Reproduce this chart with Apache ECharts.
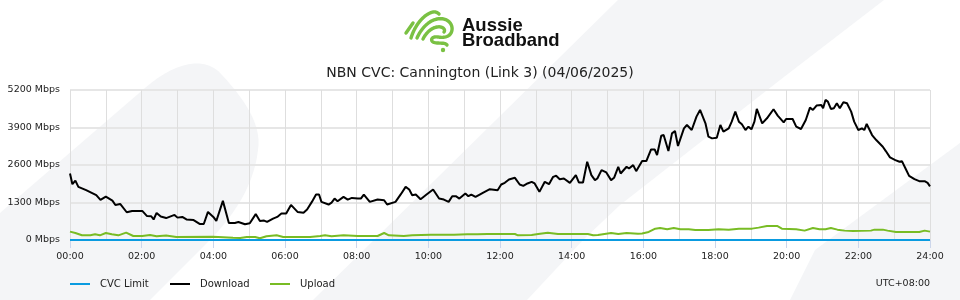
<!DOCTYPE html>
<html>
<head>
<meta charset="utf-8">
<script src="https://cdn.jsdelivr.net/npm/echarts@6/dist/echarts.min.js"></script>
<style>
html,body{margin:0;padding:0;background:#fff;}
#chart{width:960px;height:300px;}
</style>
</head>
<body>
<div id="chart"></div>
<script>
// ---- Data (minutes since 00:00, Mbps) ----
const chartTitle = 'NBN CVC: Cannington (Link 3) (04/06/2025)';
const seriesNames = ['CVC Limit', 'Download', 'Upload'];
const yTicks = [0, 1300, 2600, 3900, 5200];
const xTickHours = ['00:00','02:00','04:00','06:00','08:00','10:00','12:00','14:00','16:00','18:00','20:00','22:00','24:00'];

const cvcLimit = [[0,0],[1440,0]];

const download = [
[0,2306],[4,1935],[9,2060],[14,1843],[27,1727],[44,1553],[51,1390],[60,1505],[71,1365],[76,1215],[84,1250],[95,962],[104,1008],[121,1008],[129,829],[136,823],[140,712],[145,939],[152,812],[161,760],[175,870],[180,776],[188,800],[195,712],[207,690],[217,556],[224,556],[231,974],[240,800],
[245,660],[256,1356],[266,591],[276,591],[282,626],[293,545],[301,580],[311,898],[318,661],[325,672],[330,626],[340,742],[347,800],[354,916],[362,916],[370,1217],[381,974],[391,945],[397,1060],[405,1321],[412,1576],[417,1576],[421,1321],[433,1229],[438,1298],[443,1437],[448,1344],[458,1495],[465,1402],[472,1460],[482,1437],
[487,1437],[492,1576],[502,1321],[515,1402],[526,1379],[531,1229],[545,1321],[554,1588],[562,1843],[568,1750],[573,1553],[579,1576],[587,1414],[597,1576],[608,1750],[618,1437],[626,1402],[634,1321],[640,1518],[646,1518],[652,1437],[662,1611],[667,1518],[672,1576],[679,1495],[686,1576],[692,1646],[703,1762],[716,1727],[722,1924],
[728,1982],[735,2098],[745,2156],[753,1924],[759,1878],[766,1959],[773,2017],[778,1959],[786,1669],[795,2017],[802,1936],[809,2190],[814,2225],[820,2109],[827,2133],[837,1982],[847,2248],[852,1994],[859,1994],[866,2712],[873,2248],[879,2075],[883,2133],[890,2422],[898,2341],[906,2075],[911,2156],[918,2538],[922,2306],[932,2538],[936,2480],[943,2596],[948,2387],[958,2735],
[965,2735],[973,3141],[979,3141],[983,2944],[990,3616],[994,3639],[1002,3083],[1008,3697],[1013,3778],[1018,3257],[1028,3871],[1033,3987],[1041,3813],[1049,4277],[1055,4508],[1058,4532],[1064,4045],[1069,3581],[1075,3523],[1083,3547],[1089,3987],[1094,3755],[1103,3871],[1108,4103],[1114,4451],[1120,4103],[1125,4010],[1131,3813],[1136,3929],[1141,3836],[1146,4103],[1150,4543],[1159,4045],[1167,4219],[1178,4532],[1185,4312],[1195,4080],[1199,4196],
[1210,4196],[1216,3929],[1224,3848],[1232,4161],[1239,4590],[1244,4509],[1250,4659],[1258,4682],[1261,4567],[1265,4856],[1269,4798],[1274,4543],[1279,4567],[1284,4740],[1289,4567],[1295,4775],[1301,4740],[1308,4451],[1313,4103],[1320,3813],[1326,3871],[1330,3813],[1334,4022],[1343,3639],[1350,3465],[1361,3234],[1366,3083],[1373,2863],[1382,2770],[1389,2712],[1393,2735],[1399,2480],[1405,2225],[1414,2109],[1422,2040],[1425,2017],[1431,2040],[1436,1982],[1440,1860]
];

const upload = [
[0,290],[9,243],[20,165],[34,162],[42,197],[50,162],[60,243],[70,197],[81,162],[94,255],[106,139],[121,139],[134,170],[145,128],[161,155],[178,104],[240,110],[248,104],[273,75],[285,70],[296,104],[310,104],[318,58],[329,128],[346,162],[357,104],[402,104],[419,139],[427,162],[438,127],[458,162],[482,139],[515,139],[526,243],[534,162],[559,139],[573,162],[604,185],[643,185],[665,197],[682,197],[699,208],[745,208],[750,162],[773,174],[784,208],[800,255],[817,208],[867,208],[876,162],[884,174],[906,243],[918,208],[932,243],[951,220],[958,225],[969,278],[980,394],[988,417],[1000,371],[1011,417],[1022,371],[1036,371],[1047,348],[1069,348],[1086,371],[1103,359],[1120,394],[1142,394],[1153,429],[1167,487],[1184,487],[1192,394],[1216,371],[1230,325],[1244,417],[1255,371],[1265,371],[1274,417],[1285,359],[1297,325],[1311,313],[1341,325],[1347,359],[1361,359],[1369,325],[1383,278],[1422,278],[1431,325],[1440,290]
];

// ---- helpers for decorative shapes ----
// start point followed by cubic segments [c1x,c1y,c2x,c2y,x,y] or line points [x,y]
function samplePath(start, segs) {
  const pts = [start.slice()];
  let p = start.slice();
  segs.forEach(s => {
    if (s.length === 2) { pts.push(s.slice()); p = s.slice(); return; }
    for (let i = 1; i <= 14; i++) {
      const t = i / 14, u = 1 - t;
      pts.push([
        u*u*u*p[0] + 3*u*u*t*s[0] + 3*u*t*t*s[2] + t*t*t*s[4],
        u*u*u*p[1] + 3*u*u*t*s[1] + 3*u*t*t*s[3] + t*t*t*s[5]
      ]);
    }
    p = [s[4], s[5]];
  });
  return pts;
}

const FONT = 'DejaVu Sans';
const colors = ['#0a9be0', '#000000', '#78bc24'];
const bg = '#f4f5f7';
const green = '#7ac143';

const leftShape = samplePath([0,213], [[145,88],[175,62,205,55,222,75],[245,100,262,125,258,150],[254,185,235,215,205,245],[150,300],[0,300]]);
const logoStrokes = [
  samplePath([406,33], [[413,23]]),
  samplePath([411,38], [[414,28,421,17,430,13],[434,11,437,12,439,14]]),
  samplePath([417,38], [[421,29,428,21,437,19],[446,17,453,23,452,30],[451,37,444,38,438,37],[432,36,430,40,433,42],[437,44,445,42,447,45]]),
  samplePath([423,39], [[426,33,431,28,437,27],[442,26,446,29,444,32]])
];

const chart = echarts.init(document.getElementById('chart'), null, {renderer: 'canvas'});

const legendBase = {
  top: 277, padding: 0, icon: 'rect', itemWidth: 20, itemHeight: 2,
  textStyle: {fontFamily: FONT, fontSize: 10, color: '#222', padding: [0,0,0,5], lineHeight: 14},
  selectedMode: false
};

const graphics = [
  {type:'polygon', z:-100, silent:true, shape:{points:leftShape}, style:{fill:bg}},
  {type:'polygon', z:-100, silent:true, shape:{points:[[313,300],[618,0],[884,0],[780,80],[620,205],[583,240],[527,300]]}, style:{fill:bg}},
  {type:'polygon', z:-100, silent:true, shape:{points:[[790,300],[815,250],[960,143],[960,300]]}, style:{fill:bg}}
];
logoStrokes.forEach(pts => graphics.push({type:'polyline', silent:true, shape:{points:pts}, style:{stroke:green, lineWidth:3.4, fill:null, lineCap:'round', lineJoin:'round'}}));
graphics.push(
  {type:'circle', silent:true, shape:{cx:443, cy:50, r:2.2}, style:{fill:green}},
  {type:'text', silent:true, style:{text:'Aussie', x:462, y:25.5, font:'bold 18.5px "Liberation Sans"', fill:'#111', verticalAlign:'middle'}},
  {type:'text', silent:true, style:{text:'Broadband', x:462, y:41, font:'bold 18.5px "Liberation Sans"', fill:'#111', verticalAlign:'middle'}},
  {type:'text', silent:true, style:{text:'UTC+08:00', x:930, y:284, font:'9.5px "DejaVu Sans"', fill:'#222', align:'right', verticalAlign:'middle'}}
);

chart.setOption({
  animation: false,
  backgroundColor: '#fff',
  textStyle: {fontFamily: FONT},
  graphic: graphics,
  title: {
    text: chartTitle, left: 'center', top: 61,
    textStyle: {fontFamily: FONT, fontSize: 14, fontWeight: 'normal', color: '#222'}
  },
  legend: [
    Object.assign({}, legendBase, {left: 70, data: [seriesNames[0]]}),
    Object.assign({}, legendBase, {left: 170, data: [seriesNames[1]]}),
    Object.assign({}, legendBase, {left: 270, data: [seriesNames[2]]})
  ],
  grid: {left: 70, right: 30, top: 90, bottom: 60, containLabel: false, outerBoundsMode: 'none'},
  xAxis: {
    type: 'value', min: 0, max: 1440, interval: 120,
    axisLine: {show: false},
    axisTick: {show: true, length: 8, lineStyle: {color: '#ccd6eb'}},
    axisLabel: {
      fontFamily: FONT, fontSize: 9.5, color: '#222', margin: 12,
      formatter: v => xTickHours[Math.round(v / 120)] || ''
    },
    splitLine: {show: true, lineStyle: {color: '#dedede', width: 1}},
    minorTick: {show: false, splitNumber: 2},
    minorSplitLine: {show: true, lineStyle: {color: '#dedede', width: 1}}
  },
  yAxis: {
    type: 'value', min: yTicks[0], max: yTicks[yTicks.length - 1], interval: 1300,
    axisLine: {show: false}, axisTick: {show: false},
    axisLabel: {fontFamily: FONT, fontSize: 9.5, color: '#222', margin: 10, formatter: v => v + ' Mbps'},
    splitLine: {lineStyle: {color: '#e6e6e6', width: 2}}
  },
  series: [
    {name: seriesNames[1], type: 'line', data: download, symbol: 'none', lineStyle: {color: colors[1], width: 2}, itemStyle: {color: colors[1]}, z: 3},
    {name: seriesNames[2], type: 'line', data: upload, symbol: 'none', lineStyle: {color: colors[2], width: 2}, itemStyle: {color: colors[2]}, z: 3},
    {name: seriesNames[0], type: 'line', data: cvcLimit, symbol: 'none', lineStyle: {color: colors[0], width: 2}, itemStyle: {color: colors[0]}, z: 4}
  ]
});
</script>
</body>
</html>
